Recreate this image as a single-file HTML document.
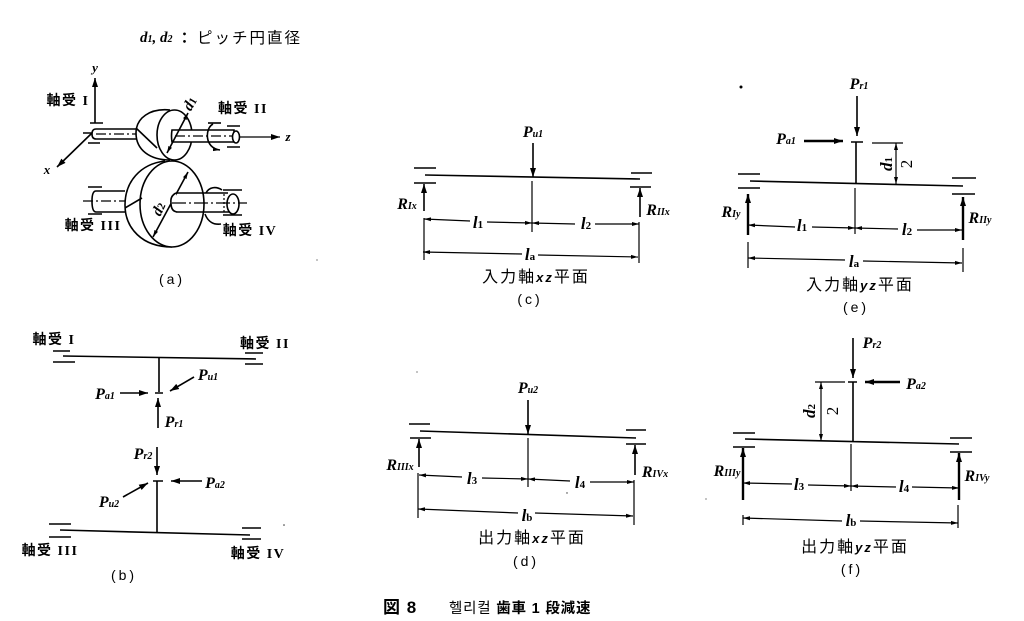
<!DOCTYPE html>
<html><head><meta charset="utf-8"><style>
html,body{margin:0;padding:0;background:#fff}
svg{display:block}
text{fill:#000;font-family:"Liberation Serif","Noto Serif CJK JP",serif}
.j{font-size:14px;letter-spacing:1.5px;text-anchor:middle;font-weight:bold;font-family:"Liberation Serif","Noto Sans CJK JP",serif}
.c{font-size:16px;letter-spacing:2px;text-anchor:middle;font-family:"Liberation Sans","Noto Sans CJK JP",sans-serif}
.s{font-size:14px;text-anchor:middle;letter-spacing:3px;font-family:"Liberation Sans",sans-serif}
.p{font-size:16px;font-style:italic;font-weight:bold;text-anchor:middle}
.p tspan{font-size:10px;font-style:italic}
.l{font-size:17px;font-style:italic;text-anchor:middle;font-weight:bold}
.l tspan{font-size:11px;font-style:normal}
.a{font-size:13px;font-style:italic;font-weight:bold;text-anchor:middle}
.g{stroke:#000;fill:none;stroke-width:1.6}
.t{stroke-width:2.4}
.h{stroke-width:1.2}
</style></head><body>
<svg width="1024" height="621" viewBox="0 0 1024 621" xmlns="http://www.w3.org/2000/svg">
<defs>
<marker id="e" markerUnits="userSpaceOnUse" markerWidth="10" markerHeight="8" refX="9" refY="4" orient="auto-start-reverse"><path d="M0 1L9 4L0 7Z" fill="#000"/></marker>
<marker id="m" markerUnits="userSpaceOnUse" markerWidth="8" markerHeight="6" refX="7" refY="3" orient="auto-start-reverse"><path d="M0 1L7 3L0 5Z" fill="#000"/></marker>
</defs>
<rect width="1024" height="621" fill="#fff"/>
<text x="140" y="42" style="font-size:15px;font-style:italic;font-weight:bold">d<tspan font-size="10">1</tspan>, d<tspan font-size="10">2</tspan></text>
<text x="177" y="43" style="font-size:15px;letter-spacing:7px;font-weight:bold;font-family:'Noto Sans CJK JP',sans-serif">：</text>
<text x="197" y="43" style="font-size:15.5px;letter-spacing:2px;font-family:'Noto Sans CJK JP',sans-serif">ピッチ円直径</text>

<!-- (a) -->
<g class="g">
<path d="M95 123V78" marker-end="url(#e)"/>
<path d="M90 123H103M88 143H100M83 133H92" />
<path d="M92 133L57 167" marker-end="url(#e)"/>
<path d="M136 129H96Q92 129 92 134Q92 139 96 139H136"/>
<path d="M96 134H136" class="h" stroke-dasharray="10 3 2 3"/>
<path d="M170 110C150 108 136 118 136 133C136 150 150 160 170 160" fill="#fff"/>
<ellipse cx="174.500" cy="135" rx="17.500" ry="25" fill="#fff"/>
<path d="M136 128L157 148"/>
<path d="M172 130H234V142H172Q171 136 172 130Z" fill="#fff"/>
<path d="M175 136H232" class="h" stroke-dasharray="10 3 2 3"/>
<path d="M188 113L167 153" marker-start="url(#m)" marker-end="url(#m)"/>
<ellipse cx="236" cy="137" rx="3.500" ry="6" fill="#fff"/>
<path d="M239 137H280" marker-end="url(#e)" class="h"/>
<path d="M227 126H240M227 147H240"/>
<path d="M213 124C205 128 204 148 220 150" marker-end="url(#m)"/>
<path d="M221 123H208"/>
<!-- gear 2 -->
<path d="M165 161C140 164 125 182 125 205C125 228 142 247 172 247" fill="#fff"/>
<ellipse cx="172" cy="204" rx="32" ry="43" fill="#fff"/>
<path d="M125 208L142 198"/>
<path d="M125 191H96Q92 191 92 201Q92 212 96 212H125"/>
<path d="M83 201H125" class="h" stroke-dasharray="10 3 2 3"/>
<path d="M88 187H102M88 214H102"/>
<path d="M188 172L153 237" marker-start="url(#m)" marker-end="url(#m)"/>
<path d="M176 193H228M176 212H230M176 193Q170 196 171 203Q171 212 178 212" fill="#fff"/>
<ellipse cx="233" cy="204" rx="6" ry="10" fill="#fff"/>
<path d="M172 203H247" class="h" stroke-dasharray="14 3 2 3"/>
<path d="M224 194V212" class="h" stroke-dasharray="2 2"/>
<path d="M223 190H242M223 215H242"/>
<path d="M206 193C209 187 216 186 222 190M205 214C208 222 214 225 221 224"/>
</g>
<text class="a" x="95" y="72">y</text><text class="a" x="47" y="174">x</text><text class="a" x="288" y="141">z</text>
<text class="j" x="68" y="105">軸受 I</text><text class="j" x="243" y="113">軸受 II</text>
<text class="j" x="93" y="230">軸受 III</text><text class="j" x="250" y="235">軸受 IV</text>
<text class="l" transform="translate(194 106) rotate(-60)" style="font-size:15px">d<tspan>1</tspan></text>
<text class="l" transform="translate(163 211) rotate(-65)" style="font-size:15px">d<tspan>2</tspan></text>
<text class="s" x="172" y="284">(a)</text>

<!-- (b) -->
<g class="g">
<path d="M63 356L256 359M53 351H70M53 362H75M245 353H263M245 364H263"/>
<path d="M159 358V392M155 393H163"/>
<path d="M158 428V398" marker-end="url(#e)"/>
<path d="M120 393H148" marker-end="url(#e)"/>
<path d="M194 377L170 391" marker-end="url(#e)"/>
<path d="M157 447V475" marker-end="url(#e)"/>
<path d="M153 481H163M157 481V532"/>
<path d="M60 530L250 535M49 524H71M49 537H71M242 528H261M242 539H261"/>
<path d="M123 497L148 483" marker-end="url(#e)"/>
<path d="M202 481H171" marker-end="url(#e)"/>
</g>
<text class="j" x="54" y="344">軸受 I</text><text class="j" x="265" y="348">軸受 II</text>
<text class="j" x="50" y="555">軸受 III</text><text class="j" x="258" y="558">軸受 IV</text>
<text class="p" x="105" y="399">P<tspan>a1</tspan></text><text class="p" x="208" y="380">P<tspan>u1</tspan></text>
<text class="p" x="174" y="427">P<tspan>r1</tspan></text><text class="p" x="143" y="459">P<tspan>r2</tspan></text>
<text class="p" x="109" y="507">P<tspan>u2</tspan></text><text class="p" x="215" y="488">P<tspan>a2</tspan></text>
<text class="s" x="124" y="580">(b)</text>

<!-- (c) -->
<g class="g">
<path d="M425 175L640 179M414 168H436M414 183H436M631 173H652M630 187H651"/>
<path d="M533 143V177" marker-end="url(#e)"/>
<path d="M532 181V232" class="h"/>
<path d="M424 211V184" marker-end="url(#e)"/>
<path d="M640 217V188" marker-end="url(#e)"/>
<path d="M424 218V260M639 222V263" class="h"/>
<path d="M470 221L424 219" class="h" marker-end="url(#m)"/>
<path d="M487 222L532 223" class="h" marker-end="url(#m)"/>
<path d="M575 224L532 223" class="h" marker-end="url(#m)"/>
<path d="M595 224L639 224" class="h" marker-end="url(#m)"/>
<path d="M522 254L423 252" class="h" marker-end="url(#m)"/>
<path d="M538 255L638 257" class="h" marker-end="url(#m)"/>
</g>
<text class="l" x="478" y="228">l<tspan>1</tspan></text><text class="l" x="586" y="229">l<tspan>2</tspan></text><text class="l" x="530" y="260">l<tspan>a</tspan></text>
<text class="p" x="533" y="137">P<tspan>u1</tspan></text><text class="p" x="407" y="209">R<tspan>Ix</tspan></text><text class="p" x="658" y="215">R<tspan>IIx</tspan></text>
<text class="c" x="536" y="282">入力軸<tspan font-style="italic" font-weight="bold" font-size="13">xz</tspan>平面</text>
<text class="s" x="530" y="304">(c)</text>

<!-- (e) -->
<g class="g">
<path d="M857 96V136" marker-end="url(#e)"/>
<path d="M851 142H863M856 142V183M750 181L963 186M738 174H760M738 188H760M952 178H976M952 194H975"/>
<path d="M855 188V234" class="h"/>
<path d="M748 235V194" class="t" marker-end="url(#e)"/>
<path d="M963 240V197" class="t" marker-end="url(#e)"/>
<path d="M748 242V268M963 248V272" class="h"/>
<path d="M795 227L748 225" class="h" marker-end="url(#m)"/>
<path d="M812 227L855 228" class="h" marker-end="url(#m)"/>
<path d="M898 229L855 228" class="h" marker-end="url(#m)"/>
<path d="M917 230L962 230" class="h" marker-end="url(#m)"/>
<path d="M845 260L748 258" class="h" marker-end="url(#m)"/>
<path d="M863 261L962 263" class="h" marker-end="url(#m)"/>
<path d="M804 141H843" class="t" marker-end="url(#e)"/>
<path d="M872 143H903" class="h"/>
<path d="M896 184V143" class="h" marker-start="url(#m)" marker-end="url(#m)"/>
</g>
<circle cx="741" cy="87" r="1.500" fill="#000"/>
<text class="l" x="802" y="231">l<tspan>1</tspan></text><text class="l" x="907" y="235">l<tspan>2</tspan></text><text class="l" x="854" y="267">l<tspan>a</tspan></text>
<text class="p" x="859" y="89">P<tspan>r1</tspan></text><text class="p" x="786" y="144">P<tspan>a1</tspan></text>
<text class="p" x="731" y="217">R<tspan>Iy</tspan></text><text class="p" x="980" y="223">R<tspan>IIy</tspan></text>
<text class="l" transform="translate(892 164) rotate(-90)">d<tspan>1</tspan></text>
<text class="l" transform="translate(912 164) rotate(-90)" style="font-style:normal;font-weight:normal">2</text>
<text class="c" x="860" y="290">入力軸<tspan font-style="italic" font-weight="bold" font-size="13">yz</tspan>平面</text>
<text class="s" x="856" y="312">(e)</text>

<!-- (d) -->
<g class="g">
<path d="M420 431L636 438M409 424H430M410 438H431M626 430H646M626 444H646"/>
<path d="M528 400V434" marker-end="url(#e)"/>
<path d="M528 438V487" class="h"/>
<path d="M419 467V439" marker-end="url(#e)"/>
<path d="M635 475V445" marker-end="url(#e)"/>
<path d="M418 473V518M634 480V525" class="h"/>
<path d="M462 477L419 475" class="h" marker-end="url(#m)"/>
<path d="M482 478L528 479" class="h" marker-end="url(#m)"/>
<path d="M570 481L528 479" class="h" marker-end="url(#m)"/>
<path d="M590 482L634 482" class="h" marker-end="url(#m)"/>
<path d="M518 513L418 509" class="h" marker-end="url(#m)"/>
<path d="M535 513L633 516" class="h" marker-end="url(#m)"/>
</g>
<text class="l" x="472" y="484">l<tspan>3</tspan></text><text class="l" x="580" y="488">l<tspan>4</tspan></text><text class="l" x="527" y="521">l<tspan>b</tspan></text>
<text class="p" x="528" y="393">P<tspan>u2</tspan></text><text class="p" x="400" y="470">R<tspan>IIIx</tspan></text><text class="p" x="655" y="477">R<tspan>IVx</tspan></text>
<text class="c" x="532" y="543">出力軸<tspan font-style="italic" font-weight="bold" font-size="13">xz</tspan>平面</text>
<text class="s" x="526" y="566">(d)</text>

<!-- (f) -->
<g class="g">
<path d="M853 338V378" marker-end="url(#e)"/>
<path d="M848 382H857M853 382V442M745 439L959 444M733 433H755M733 447H755M950 438H972M950 452H972"/>
<path d="M851 444V491" class="h"/>
<path d="M743 500V448" class="t" marker-end="url(#e)"/>
<path d="M959 500V453" class="t" marker-end="url(#e)"/>
<path d="M743 515V525M958 505V528" class="h"/>
<path d="M792 484L743 483" class="h" marker-end="url(#m)"/>
<path d="M808 485L851 486" class="h" marker-end="url(#m)"/>
<path d="M896 487L851 486" class="h" marker-end="url(#m)"/>
<path d="M912 487L959 488" class="h" marker-end="url(#m)"/>
<path d="M842 521L743 518" class="h" marker-end="url(#m)"/>
<path d="M860 521L958 523" class="h" marker-end="url(#m)"/>
<path d="M900 382H865" class="t" marker-end="url(#e)"/>
<path d="M815 382H845" class="h"/>
<path d="M821 441V382" class="h" marker-start="url(#m)" marker-end="url(#m)"/>
</g>
<text class="l" x="799" y="490">l<tspan>3</tspan></text><text class="l" x="904" y="492">l<tspan>4</tspan></text><text class="l" x="851" y="526">l<tspan>b</tspan></text>
<text class="p" x="872" y="348">P<tspan>r2</tspan></text><text class="p" x="916" y="389">P<tspan>a2</tspan></text>
<text class="p" x="727" y="476">R<tspan>IIIy</tspan></text><text class="p" x="977" y="481">R<tspan>IVy</tspan></text>
<text class="l" transform="translate(815 411) rotate(-90)">d<tspan>2</tspan></text>
<text class="l" transform="translate(838 411) rotate(-90)" style="font-style:normal;font-weight:normal">2</text>
<text class="c" x="855" y="552">出力軸<tspan font-style="italic" font-weight="bold" font-size="13">yz</tspan>平面</text>
<text class="s" x="852" y="574">(f)</text>

<!-- caption -->
<text x="383" y="613" style="font-size:17px;font-family:'Liberation Sans','Noto Sans CJK JP',sans-serif;font-weight:bold;letter-spacing:1px">図 8</text>
<text x="449" y="613" style="font-size:14.500px;font-family:'Liberation Sans','Noto Sans CJK JP',sans-serif;letter-spacing:0.8px">헬리컬 <tspan font-weight="bold">歯車 1 段減速</tspan></text>

<!-- specks -->
<g fill="#333"><circle cx="317" cy="260" r=".6"/><circle cx="284" cy="525" r=".8"/><circle cx="706" cy="499" r=".6"/><circle cx="417" cy="372" r=".6"/><circle cx="567" cy="493" r=".7"/></g>
</svg>
</body></html>
